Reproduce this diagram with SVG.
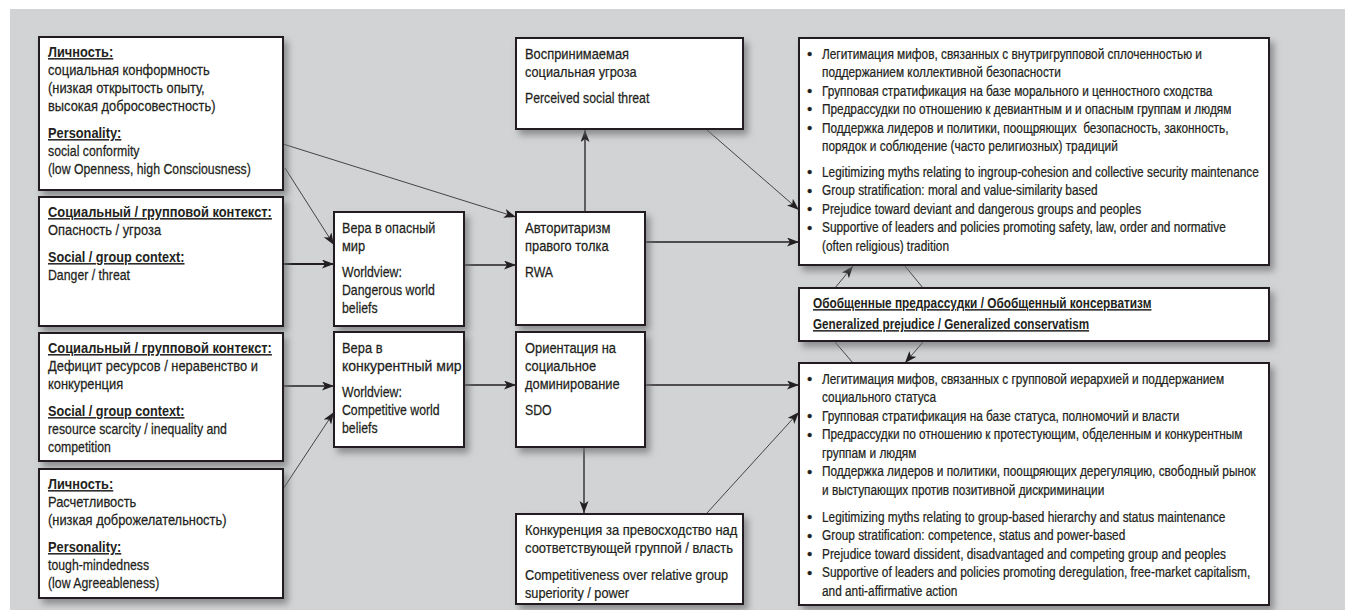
<svg xmlns="http://www.w3.org/2000/svg" width="1345" height="610" viewBox="0 0 1345 610">
<style>
.bg{fill:#d1d3d4}
.box{fill:#fff;stroke:#231f20;stroke-width:2}
.t{font-family:"Liberation Sans",Arial,sans-serif;font-size:15px;fill:#231f20;stroke:#231f20;stroke-width:0.25}
.h{font-weight:bold;text-decoration:underline;stroke-width:0}
.c{stroke:#231f20;fill:none}
.thin{stroke-width:0.8}
.mid{stroke-width:1.3}
.thick{stroke-width:2.2}
</style>
<defs>
<filter id="sh" x="-10%" y="-10%" width="130%" height="140%">
<feDropShadow dx="4" dy="5" stdDeviation="3.5" flood-color="#6d6e71" flood-opacity="0.7"/>
</filter>
<marker id="ah" markerUnits="userSpaceOnUse" markerWidth="13" markerHeight="10" refX="12" refY="4.5" orient="auto">
<path d="M0,0 L12,4.5 L0,9 L3,4.5 z" fill="#231f20"/>
</marker>
</defs>
<rect class="bg" x="10" y="9" width="1335" height="601"/>

<g id="connectors">
<line class="c thin" x1="283" y1="144" x2="516" y2="217" marker-end="url(#ah)"/>
<line class="c thin" x1="285" y1="168" x2="334" y2="245" marker-end="url(#ah)"/>
<line class="c thick" x1="284" y1="264" x2="334" y2="264" marker-end="url(#ah)"/>
<line class="c mid" x1="284" y1="386" x2="334" y2="386" marker-end="url(#ah)"/>
<line class="c thin" x1="283" y1="489" x2="334" y2="412" marker-end="url(#ah)"/>
<line class="c mid" x1="465" y1="265" x2="516" y2="265" marker-end="url(#ah)"/>
<line class="c mid" x1="465" y1="385" x2="516" y2="385" marker-end="url(#ah)"/>
<line class="c mid" x1="585" y1="211" x2="585" y2="130" marker-end="url(#ah)"/>
<line class="c thin" x1="707" y1="130" x2="799" y2="210" marker-end="url(#ah)"/>
<line class="c mid" x1="646" y1="242" x2="799" y2="242" marker-end="url(#ah)"/>
<line class="c mid" x1="584" y1="448" x2="584" y2="513" marker-end="url(#ah)"/>
<line class="c mid" x1="646" y1="385" x2="799" y2="385" marker-end="url(#ah)"/>
<line class="c thin" x1="707" y1="513" x2="799" y2="412" marker-end="url(#ah)"/>
<line class="c thin" x1="835" y1="288" x2="853" y2="266" marker-end="url(#ah)"/>
<line class="c thin" x1="905" y1="266" x2="923" y2="288"/>
<line class="c thin" x1="835" y1="342" x2="853" y2="363"/>
<line class="c thin" x1="923" y1="342" x2="905" y2="363" marker-end="url(#ah)"/>
</g>

<g id="personality1">
<rect class="box" x="39" y="37" width="244" height="153" filter="url(#sh)"/>
<g class="t">
<text class="h" transform="matrix(0.855 0 0 1 48 0)" y="57">Личность:</text>
<text transform="matrix(0.86 0 0 1 48 0)" y="75">социальная конформность</text>
<text transform="matrix(0.86 0 0 1 48 0)" y="93">(низкая открытость опыту,</text>
<text transform="matrix(0.86 0 0 1 48 0)" y="111">высокая добросовестность)</text>
<text class="h" transform="matrix(0.855 0 0 1 48 0)" y="138">Personality:</text>
<text transform="matrix(0.82 0 0 1 48 0)" y="156">social conformity</text>
<text transform="matrix(0.82 0 0 1 48 0)" y="174">(low Openness, high Consciousness)</text>
</g>
</g>

<g id="context-danger">
<rect class="box" x="39" y="197" width="244" height="129" filter="url(#sh)"/>
<g class="t">
<text class="h" transform="matrix(0.86 0 0 1 48 0)" y="217">Социальный / групповой контекст:</text>
<text transform="matrix(0.86 0 0 1 48 0)" y="235">Опасность / угроза</text>
<text class="h" transform="matrix(0.845 0 0 1 48 0)" y="262">Social / group context:</text>
<text transform="matrix(0.82 0 0 1 48 0)" y="280">Danger / threat</text>
</g>
</g>

<g id="context-scarcity">
<rect class="box" x="39" y="333" width="244" height="128" filter="url(#sh)"/>
<g class="t">
<text class="h" transform="matrix(0.86 0 0 1 48 0)" y="353">Социальный / групповой контекст:</text>
<text transform="matrix(0.86 0 0 1 48 0)" y="371">Дефицит ресурсов / неравенство и</text>
<text transform="matrix(0.86 0 0 1 48 0)" y="389">конкуренция</text>
<text class="h" transform="matrix(0.845 0 0 1 48 0)" y="416">Social / group context:</text>
<text transform="matrix(0.82 0 0 1 48 0)" y="434">resource scarcity / inequality and</text>
<text transform="matrix(0.82 0 0 1 48 0)" y="452">competition</text>
</g>
</g>

<g id="personality2">
<rect class="box" x="39" y="469" width="244" height="129" filter="url(#sh)"/>
<g class="t">
<text class="h" transform="matrix(0.855 0 0 1 48 0)" y="489">Личность:</text>
<text transform="matrix(0.86 0 0 1 48 0)" y="507">Расчетливость</text>
<text transform="matrix(0.86 0 0 1 48 0)" y="525">(низкая доброжелательность)</text>
<text class="h" transform="matrix(0.855 0 0 1 48 0)" y="552">Personality:</text>
<text transform="matrix(0.82 0 0 1 48 0)" y="570">tough-mindedness</text>
<text transform="matrix(0.82 0 0 1 48 0)" y="588">(low Agreeableness)</text>
</g>
</g>

<g id="worldview-dangerous">
<rect class="box" x="334" y="212" width="130" height="114" filter="url(#sh)"/>
<g class="t">
<text transform="matrix(0.84 0 0 1 342 0)" y="233">Вера в опасный</text>
<text transform="matrix(0.86 0 0 1 342 0)" y="251">мир</text>
<text transform="matrix(0.82 0 0 1 342 0)" y="277">Worldview:</text>
<text transform="matrix(0.82 0 0 1 342 0)" y="295">Dangerous world</text>
<text transform="matrix(0.82 0 0 1 342 0)" y="313">beliefs</text>
</g>
</g>

<g id="worldview-competitive">
<rect class="box" x="334" y="332" width="130" height="115" filter="url(#sh)"/>
<g class="t">
<text transform="matrix(0.86 0 0 1 342 0)" y="353">Вера в</text>
<text transform="matrix(0.86 0 0 1 342 0)" y="371" textLength="139" lengthAdjust="spacingAndGlyphs">конкурентный мир</text>
<text transform="matrix(0.82 0 0 1 342 0)" y="397">Worldview:</text>
<text transform="matrix(0.82 0 0 1 342 0)" y="415">Competitive world</text>
<text transform="matrix(0.82 0 0 1 342 0)" y="433">beliefs</text>
</g>
</g>

<g id="threat">
<rect class="box" x="516" y="38" width="227" height="91" filter="url(#sh)"/>
<g class="t">
<text transform="matrix(0.86 0 0 1 525 0)" y="59">Воспринимаемая</text>
<text transform="matrix(0.85 0 0 1 525 0)" y="77">социальная угроза</text>
<text transform="matrix(0.82 0 0 1 525 0)" y="103">Perceived social threat</text>
</g>
</g>

<g id="rwa">
<rect class="box" x="516" y="212" width="129" height="113" filter="url(#sh)"/>
<g class="t">
<text transform="matrix(0.87 0 0 1 525 0)" y="233">Авторитаризм</text>
<text transform="matrix(0.86 0 0 1 525 0)" y="251">правого толка</text>
<text transform="matrix(0.82 0 0 1 525 0)" y="277">RWA</text>
</g>
</g>

<g id="sdo">
<rect class="box" x="516" y="332" width="129" height="115" filter="url(#sh)"/>
<g class="t">
<text transform="matrix(0.86 0 0 1 525 0)" y="353">Ориентация на</text>
<text transform="matrix(0.86 0 0 1 525 0)" y="371">социальное</text>
<text transform="matrix(0.86 0 0 1 525 0)" y="389">доминирование</text>
<text transform="matrix(0.82 0 0 1 525 0)" y="415">SDO</text>
</g>
</g>

<g id="competitiveness">
<rect class="box" x="516" y="514" width="227" height="90" filter="url(#sh)"/>
<g class="t">
<text transform="matrix(0.865 0 0 1 525 0)" y="535">Конкуренция за превосходство над</text>
<text transform="matrix(0.865 0 0 1 525 0)" y="553">соответствующей группой / власть</text>
<text transform="matrix(0.85 0 0 1 525 0)" y="580">Competitiveness over relative group</text>
<text transform="matrix(0.85 0 0 1 525 0)" y="598">superiority / power</text>
</g>
</g>

<g id="outcomes-rwa">
<rect class="box" x="799" y="38" width="470" height="227" filter="url(#sh)"/>
<g class="t">
<text x="807" y="59">•</text>
<text x="807" y="95.8">•</text>
<text x="807" y="114.2">•</text>
<text x="807" y="132.6">•</text>
<text x="807" y="177">•</text>
<text x="807" y="195.5">•</text>
<text x="807" y="214">•</text>
<text x="807" y="232.5">•</text>
</g>
<g class="t" transform="translate(822,0) scale(0.79,1)">
<text x="0" y="59">Легитимация мифов, связанных с внутригрупповой сплоченностью и</text>
<text x="0" y="77.4">поддержанием коллективной безопасности</text>
<text x="0" y="95.8">Групповая стратификация на базе морального и ценностного сходства</text>
<text x="0" y="114.2">Предрассудки по отношению к девиантным и и опасным группам и людям</text>
<text x="0" y="132.6" xml:space="preserve">Поддержка лидеров и политики, поощряющих  безопасность, законность,</text>
<text x="0" y="151">порядок и соблюдение (часто религиозных) традиций</text>
<text x="0" y="177">Legitimizing myths relating to ingroup-cohesion and collective security maintenance</text>
<text x="0" y="195.5">Group stratification: moral and value-similarity based</text>
<text x="0" y="214">Prejudice toward deviant and dangerous groups and peoples</text>
<text x="0" y="232.5">Supportive of leaders and policies promoting safety, law, order and normative</text>
<text x="0" y="251">(often religious) tradition</text>
</g>
</g>

<g id="generalized">
<rect class="box" x="799" y="288" width="470" height="53" filter="url(#sh)"/>
<g class="t">
<text class="h" transform="matrix(0.79 0 0 1 813 0)" y="308">Обобщенные предрассудки / Обобщенный консерватизм</text>
<text class="h" transform="matrix(0.78 0 0 1 813 0)" y="329">Generalized prejudice / Generalized conservatism</text>
</g>
</g>

<g id="outcomes-sdo">
<rect class="box" x="799" y="363" width="470" height="242" filter="url(#sh)"/>
<g class="t">
<text x="807" y="384">•</text>
<text x="807" y="421">•</text>
<text x="807" y="439.5">•</text>
<text x="807" y="476.5">•</text>
<text x="807" y="522">•</text>
<text x="807" y="540.5">•</text>
<text x="807" y="559">•</text>
<text x="807" y="577.5">•</text>
</g>
<g class="t" transform="translate(822,0) scale(0.79,1)">
<text x="0" y="384">Легитимация мифов, связанных с групповой иерархией и поддержанием</text>
<text x="0" y="402.5">социального статуса</text>
<text x="0" y="421">Групповая стратификация на базе статуса, полномочий и власти</text>
<text x="0" y="439.5">Предрассудки по отношению к протестующим, обделенным и конкурентным</text>
<text x="0" y="458">группам и людям</text>
<text x="0" y="476.5">Поддержка лидеров и политики, поощряющих дерегуляцию, свободный рынок</text>
<text x="0" y="495">и выступающих против позитивной дискриминации</text>
<text x="0" y="522">Legitimizing myths relating to group-based hierarchy and status maintenance</text>
<text x="0" y="540.5">Group stratification: competence, status and power-based</text>
<text x="0" y="559">Prejudice toward dissident, disadvantaged and competing group and peoples</text>
<text x="0" y="577.5">Supportive of leaders and policies promoting deregulation, free-market capitalism,</text>
<text x="0" y="596">and anti-affirmative action</text>
</g>
</g>
</svg>
